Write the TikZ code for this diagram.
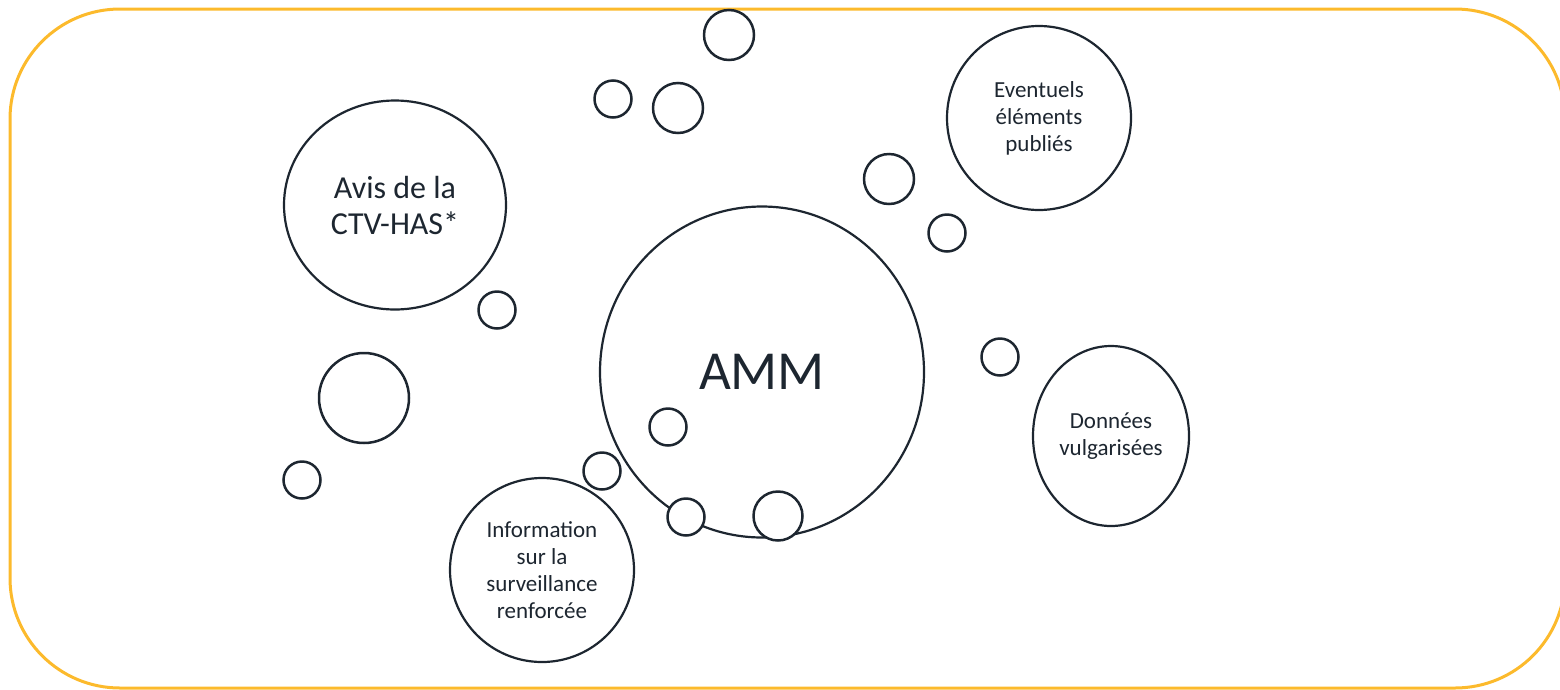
\documentclass[tikz,border=0pt]{standalone}
\usepackage{fontspec}
\setmainfont{Carlito}
\usetikzlibrary{shapes.geometric}
\definecolor{ink}{RGB}{29,38,48}
\definecolor{frameorange}{RGB}{252,186,44}
\begin{document}
\begin{tikzpicture}[x=1pt,y=-1pt,
  bigbubble/.style={ellipse,draw=ink,fill=white,line width=2.2pt,inner sep=0pt,text=ink,align=center},
  bubble/.style={circle,draw=ink,fill=white,line width=2.5pt,inner sep=0pt},
  smalltext/.style={font=\fontsize{23}{27}\selectfont}]
\useasboundingbox (0,0) rectangle (1560,689);
\draw[frameorange,line width=3pt,rounded corners=110pt] (10,9) rectangle (1565,688);

\node[bigbubble,minimum width=222pt,minimum height=209pt,font=\fontsize{32}{36}\selectfont] (ctv) at (395,205) {Avis de la\\CTV-HAS*};
\node[bigbubble,minimum width=324pt,minimum height=331pt,font=\fontsize{55}{60}\selectfont] (amm) at (762,372) {AMM};
\node[bigbubble,smalltext,minimum width=184pt,minimum height=184pt] (elements) at (1039,118) {Eventuels\\éléments\\publiés};
\node[bigbubble,smalltext,minimum width=156pt,minimum height=180pt] (donnees) at (1111,436) {Données\\vulgarisées};
\node[bigbubble,smalltext,minimum width=184pt,minimum height=184pt] (info) at (542,570) {Information\\sur la\\surveillance\\renforcée};

\node[bubble,minimum size=50pt] (b1) at (729,35) {};
\node[bubble,minimum size=37pt] (b2) at (613,99) {};
\node[bubble,minimum size=50pt] (b3) at (678,108) {};
\node[bubble,minimum size=50pt] (b4) at (889,179) {};
\node[bubble,minimum size=37pt] (b5) at (947,233) {};
\node[bubble,minimum size=37pt] (b6) at (497,310) {};
\node[bubble,minimum size=90pt] (b7) at (364,398) {};
\node[bubble,minimum size=37pt] (b8) at (302,480) {};
\node[bubble,minimum size=37pt] (b9) at (1000,357) {};
\node[bubble,minimum size=37pt] (b10) at (668,427) {};
\node[bubble,minimum size=37pt] (b11) at (602,471) {};
\node[bubble,minimum size=37pt] (b12) at (686,517) {};
\node[bubble,minimum size=49pt] (b13) at (778,516) {};
\end{tikzpicture}
\end{document}
